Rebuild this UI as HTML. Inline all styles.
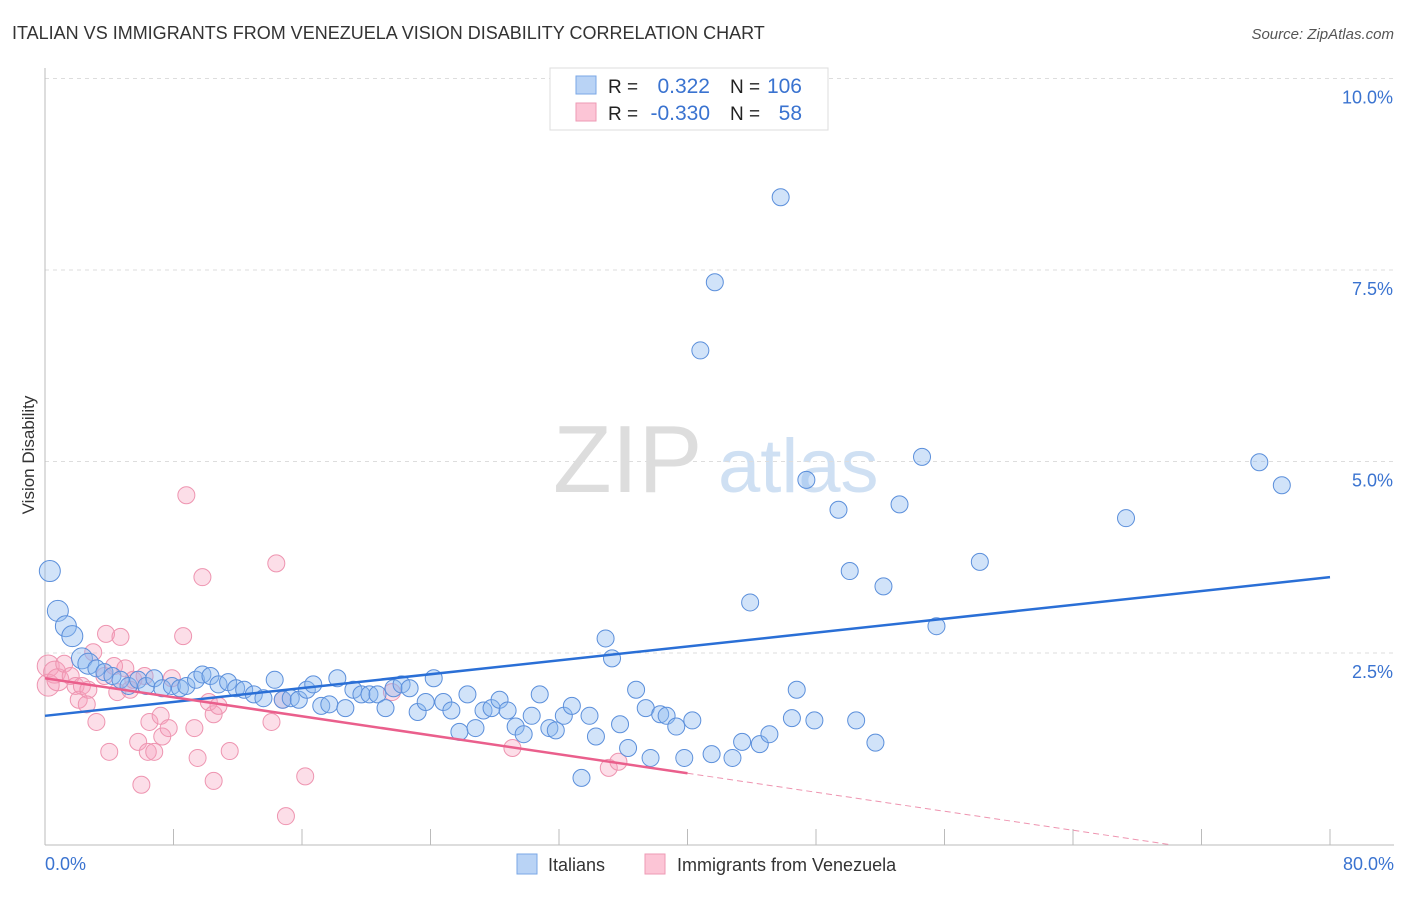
<!DOCTYPE html>
<html><head><meta charset="utf-8"><style>
body{margin:0;background:#fff;font-family:"Liberation Sans",sans-serif;}
svg text{font-family:"Liberation Sans",sans-serif;}
</style></head><body>
<svg id="chart" width="1406" height="892" xmlns="http://www.w3.org/2000/svg">
<text x="12" y="39" font-size="18" fill="#333">ITALIAN VS IMMIGRANTS FROM VENEZUELA VISION DISABILITY CORRELATION CHART</text>
<text x="1394" y="39" font-size="15" fill="#555" font-style="italic" text-anchor="end">Source: ZipAtlas.com</text>
<g>
<text x="553" y="492" font-size="96" font-family="Liberation Serif" fill="#ddd">ZIP</text>
<text x="718" y="492" font-size="76" fill="#cfe0f3">atlas</text>
</g>
<g id="grid"></g>
<g id="axes"></g>
<g id="pinkpts"></g>
<g id="bluepts"></g>
<g id="lines"></g>
<text transform="translate(34,455) rotate(-90)" font-size="17" fill="#333" text-anchor="middle">Vision Disability</text>
<g>
<rect x="550" y="68" width="278" height="62" fill="#fff" stroke="#ddd"/>
<rect x="576" y="76" width="20" height="18" fill="#b9d3f5" stroke="#7aa7e6"/>
<rect x="576" y="103" width="20" height="18" fill="#fcc5d6" stroke="#ee9ab4"/>
<text x="608" y="93" font-size="19" fill="#222">R =</text>
<text x="710" y="93" font-size="21" fill="#3a73d0" text-anchor="end">0.322</text>
<text x="730" y="93" font-size="19" fill="#222">N =</text>
<text x="802" y="93" font-size="21" fill="#3a73d0" text-anchor="end">106</text>
<text x="608" y="120" font-size="19" fill="#222">R =</text>
<text x="710" y="120" font-size="21" fill="#3a73d0" text-anchor="end">-0.330</text>
<text x="730" y="120" font-size="19" fill="#222">N =</text>
<text x="802" y="120" font-size="21" fill="#3a73d0" text-anchor="end">58</text>
</g>
<g>
<rect x="517" y="854" width="20" height="20" fill="#b9d3f5" stroke="#7aa7e6"/>
<text x="548" y="871" font-size="18" fill="#333">Italians</text>
<rect x="645" y="854" width="20" height="20" fill="#fcc5d6" stroke="#ee9ab4"/>
<text x="677" y="871" font-size="18" fill="#333">Immigrants from Venezuela</text>
</g>
</svg>
<script>
const xTicks=[0,8,16,24,32,40,48,56,64,72,80];
const yTicks=[2.5,5.0,7.5,10.0];
const yTickLabels=["2.5%","5.0%","7.5%","10.0%"];
const blueX=[0.3,0.8,1.3,1.7,2.3,2.7,3.2,3.7,4.2,4.7,5.2,5.8,6.3,6.8,7.3,7.9,8.4,8.8,9.4,9.8,10.3,10.8,11.4,11.9,12.4,13.0,13.6,14.3,14.8,15.3,15.8,16.3,16.7,17.2,17.7,18.2,18.7,19.2,19.7,20.2,20.7,21.2,21.7,22.2,22.7,23.2,23.7,24.2,24.8,25.3,25.8,26.3,26.8,27.3,27.8,28.3,28.8,29.3,29.8,30.3,30.8,31.4,31.8,32.3,32.8,33.4,33.9,34.3,34.9,35.3,35.8,36.3,36.8,37.4,37.7,38.3,38.7,39.3,39.8,40.3,40.8,41.5,41.7,42.8,43.4,43.9,44.5,45.1,45.8,46.5,46.8,47.4,47.9,49.4,50.1,50.5,51.7,52.2,53.2,54.6,55.5,58.2,67.3,75.6,77.0];
const blueY=[3.57,3.05,2.85,2.72,2.43,2.36,2.30,2.25,2.20,2.15,2.07,2.15,2.07,2.17,2.04,2.07,2.04,2.07,2.15,2.22,2.20,2.09,2.12,2.04,2.02,1.96,1.91,2.15,1.89,1.91,1.89,2.02,2.09,1.81,1.83,2.17,1.78,2.02,1.96,1.96,1.96,1.78,2.04,2.09,2.04,1.73,1.86,2.17,1.86,1.75,1.47,1.96,1.52,1.75,1.78,1.89,1.75,1.54,1.44,1.68,1.96,1.52,1.49,1.68,1.81,0.87,1.68,1.41,2.69,2.43,1.57,1.26,2.02,1.78,1.13,1.70,1.68,1.54,1.13,1.62,6.45,1.18,7.34,1.13,1.34,3.16,1.31,1.44,8.45,1.65,2.02,4.76,1.62,4.37,3.57,1.62,1.33,3.37,4.44,5.06,2.85,3.69,4.26,4.99,4.69];
const pinkX=[0.2,0.2,0.6,0.8,1.2,1.6,1.9,2.1,2.3,2.7,2.6,3.0,3.2,3.7,3.8,4.0,4.3,4.5,4.7,5.0,5.3,5.5,5.8,6.0,6.2,6.4,6.5,6.8,7.2,7.3,7.7,7.9,8.6,8.8,9.3,9.5,9.8,10.2,10.5,10.5,10.8,11.5,14.1,14.4,14.8,15.0,16.2,21.6,29.1,35.1,35.7];
const pinkY=[2.33,2.08,2.25,2.15,2.36,2.20,2.07,1.89,2.07,2.02,1.83,2.51,1.60,2.20,2.75,1.21,2.33,1.99,2.71,2.30,2.02,2.15,1.34,0.78,2.20,1.21,1.60,1.21,1.68,1.41,1.52,2.17,2.72,4.56,1.52,1.13,3.49,1.86,1.70,0.83,1.81,1.22,1.60,3.67,1.89,0.37,0.89,1.99,1.26,1.00,1.08];
const blueLine=[[0,1.68],[80,3.49]];
const pinkLine=[[0,2.17],[40,0.93]];
const pinkDash=[[40,0.93],[70,0.0]];
const NS="http://www.w3.org/2000/svg";
const sx=v=>45+v/80*1285;
const sy=v=>844.5-v*76.6;
function mk(tag,attrs,parent){const e=document.createElementNS(NS,tag);for(const k in attrs)e.setAttribute(k,attrs[k]);document.getElementById(parent).appendChild(e);return e;}
yTicks.forEach((t,i)=>{
 const g=mk('line',{x1:45,x2:1394,y1:sy(t),y2:sy(t),stroke:'#ddd','stroke-dasharray':'4,4'},'grid');
 
 
 const tx=mk('text',{x:1393,y:sy(t)+25,'font-size':18,fill:'#3a73d0','text-anchor':'end'},'axes');
 tx.textContent=yTickLabels[i];
 
 
});
const ax=mk('line',{x1:45,x2:1394,y1:845,y2:845,stroke:'#bbb'},'axes');


const ay=mk('line',{x1:45,x2:45,y1:68,y2:845,stroke:'#bbb'},'axes');


xTicks.forEach(t=>{
 const l=mk('line',{x1:sx(t),x2:sx(t),y1:829,y2:845,stroke:'#bbb'},'axes');
 
 
});
[[0,"0.0%","start",45],[80,"80.0%","end",1394]].forEach(d=>{
 const tx=mk('text',{x:d[3],y:870,'font-size':18,fill:'#3a73d0','text-anchor':d[2]},'axes');
 tx.textContent=d[1];
 
 
});
pinkX.forEach((x,i)=>{
 const c=mk('circle',{cx:sx(x),cy:sy(pinkY[i]),r:x<1?11:8.5,fill:'rgba(246,160,188,0.35)',stroke:'#ee94b0','stroke-width':1},'pinkpts');
 
 
});
blueX.forEach((x,i)=>{
 const c=mk('circle',{cx:sx(x),cy:sy(blueY[i]),r:x<3?10.5:8.5,fill:'rgba(140,185,240,0.4)',stroke:'#5b8fdb','stroke-width':1},'bluepts');
 
 
});
const b=mk('line',{x1:sx(blueLine[0][0]),y1:sy(blueLine[0][1]),x2:sx(blueLine[1][0]),y2:sy(blueLine[1][1]),stroke:'#2a6fd6','stroke-width':2.5},'lines');


const p=mk('line',{x1:sx(pinkLine[0][0]),y1:sy(pinkLine[0][1]),x2:sx(pinkLine[1][0]),y2:sy(pinkLine[1][1]),stroke:'#ea5f8c','stroke-width':2.5},'lines');


const pd=mk('line',{x1:sx(pinkDash[0][0]),y1:sy(pinkDash[0][1]),x2:sx(pinkDash[1][0]),y2:sy(pinkDash[1][1]),stroke:'#ee94b0','stroke-width':1,'stroke-dasharray':'6,4'},'lines');


</script>
</body></html>
